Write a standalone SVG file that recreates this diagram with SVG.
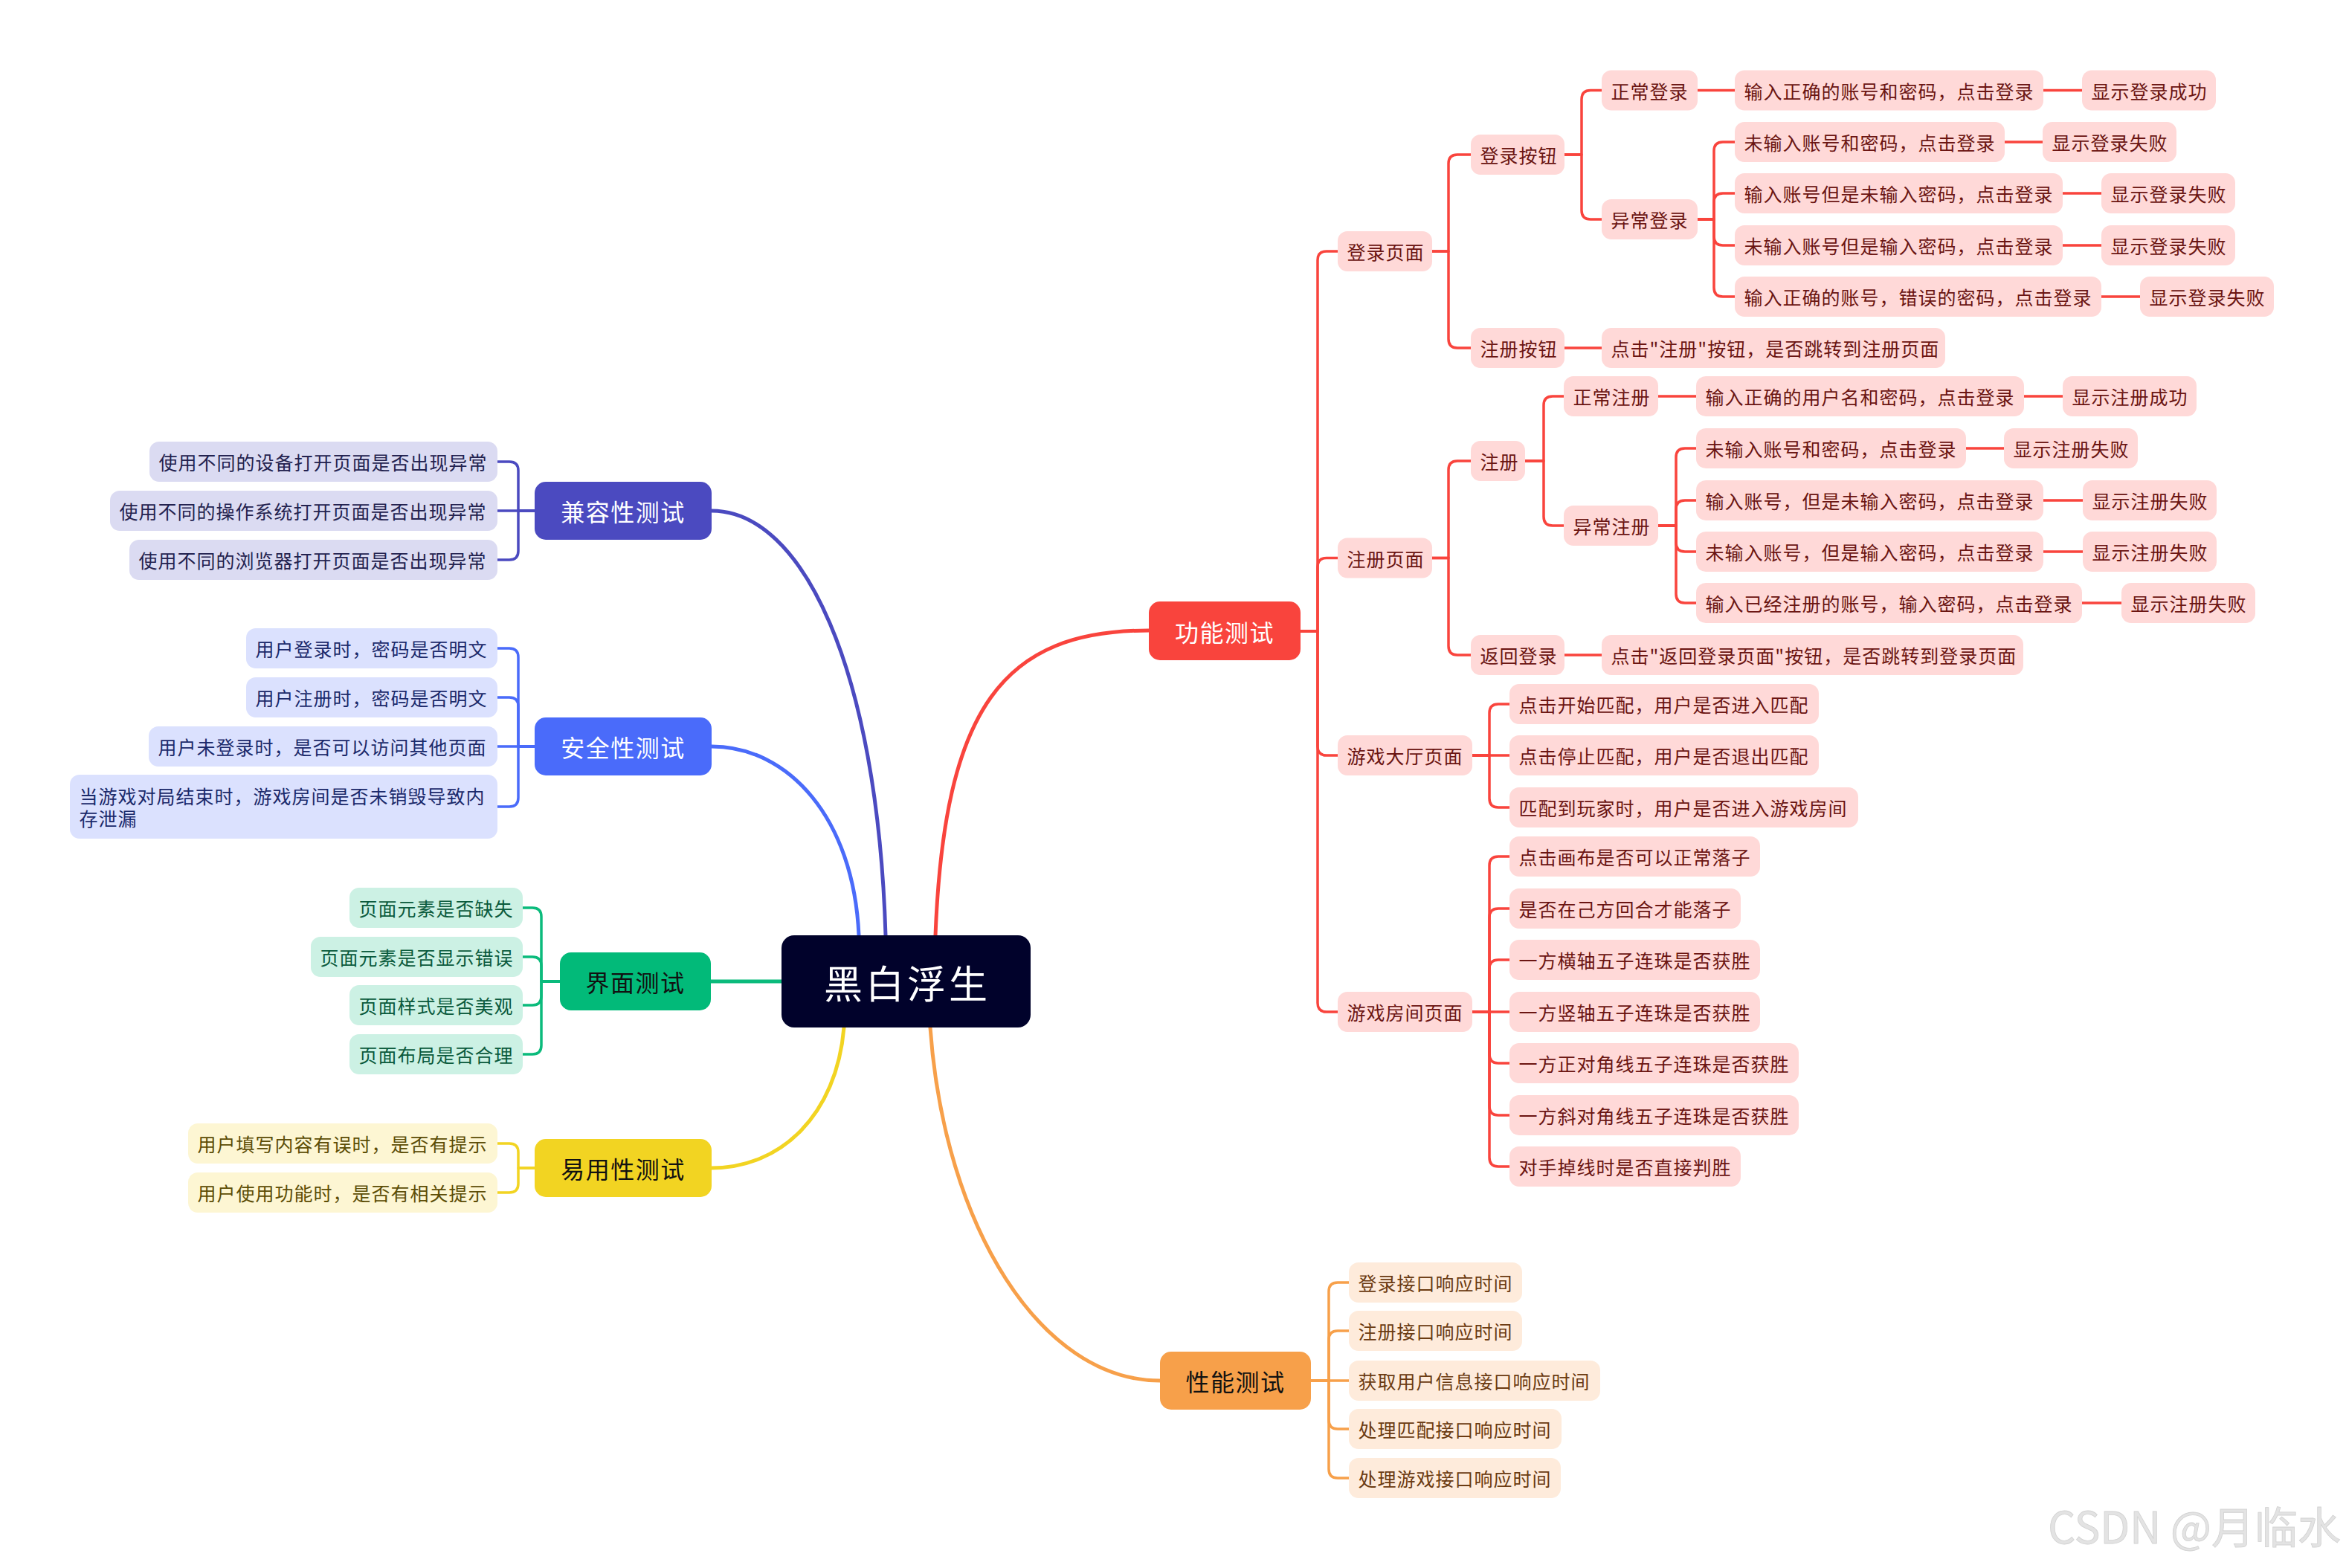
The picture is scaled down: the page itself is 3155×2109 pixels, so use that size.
<svg xmlns="http://www.w3.org/2000/svg" width="3155" height="2109" viewBox="0 0 3155 2109">
<style>
text{font-family:"Noto Sans CJK SC","Noto Sans CJK JP",sans-serif;}
.t{font-size:25px;letter-spacing:1px;dominant-baseline:central;}
.m{font-size:32px;letter-spacing:1.5px;dominant-baseline:central;text-anchor:middle;}
.cn path{fill:none;stroke-linecap:round;stroke-linejoin:round;}
.sr path{stroke:#F9443D;stroke-width:3.5;}
.si path{stroke:#4B4AC0;stroke-width:3.5;}
.sb path{stroke:#4A6BFA;stroke-width:3.5;}
.sg path{stroke:#0BBB7C;stroke-width:3.5;}
.sy path{stroke:#F2D422;stroke-width:3.5;}
.so path{stroke:#F7A04A;stroke-width:3.5;}
.main path{stroke-width:5;}
.fr rect{fill:#FFD9D8;} .fr text{fill:#6b1512;}
.fi rect{fill:#DBDBF2;} .fi text{fill:#23224f;}
.fb rect{fill:#DBE1FE;} .fb text{fill:#1b2a6b;}
.fg rect{fill:#CCF1E4;} .fg text{fill:#0a5a3c;}
.fy rect{fill:#FDF6D3;} .fy text{fill:#5c4d06;}
.fo rect{fill:#FEEBDB;} .fo text{fill:#6b3b12;}
</style>
<rect width="3155" height="2109" fill="#ffffff"/>
<g id="connectors" class="cn">
 <g class="main">
  <path d="M1258 1258 C1270 950 1350 848 1545 848" stroke="#F9443D"/>
  <path d="M1191 1258 C1180 900 1080 687 957 687" stroke="#4B4AC0"/>
  <path d="M1155 1258 C1148 1100 1060 1004 957 1004" stroke="#4A6BFA"/>
  <path d="M1051 1320 H956" stroke="#0BBB7C"/>
  <path d="M1135 1382 C1125 1500 1050 1571 957 1571" stroke="#F2D422"/>
  <path d="M1251 1382 C1270 1650 1400 1857 1560 1857" stroke="#F7A04A"/>
 </g>
 <g class="sr">
  <path d="M1749 849 H1772 V350 Q1772 338 1784 338 H1799"/>
  <path d="M1749 849 H1772 V762.5 Q1772 750.5 1784 750.5 H1799"/>
  <path d="M1749 849 H1772 V1004 Q1772 1016 1784 1016 H1799"/>
  <path d="M1749 849 H1772 V1349 Q1772 1361 1784 1361 H1799"/>
  <path d="M1926 338 H1948 V220 Q1948 208 1960 208 H1978"/>
  <path d="M1926 338 H1948 V456 Q1948 468 1960 468 H1978"/>
  <path d="M1926 750.5 H1948 V632 Q1948 620 1960 620 H1978"/>
  <path d="M1926 750.5 H1948 V869 Q1948 881 1960 881 H1978"/>
  <path d="M2104 208 H2127 V133.5 Q2127 121.5 2139 121.5 H2154"/>
  <path d="M2104 208 H2127 V283 Q2127 295 2139 295 H2154"/>
  <path d="M2104 468 H2154"/>
  <path d="M2104 881 H2154"/>
  <path d="M2283 121.5 H2333"/>
  <path d="M2748 121.5 H2800"/>
  <path d="M2283 295 H2305 V203 Q2305 191 2317 191 H2333"/>
  <path d="M2283 295 H2305 V272 Q2305 260 2317 260 H2333"/>
  <path d="M2283 295 H2305 V318 Q2305 330 2317 330 H2333"/>
  <path d="M2283 295 H2305 V387 Q2305 399 2317 399 H2333"/>
  <path d="M2696 191 H2747"/>
  <path d="M2774 260 H2826"/>
  <path d="M2774 330 H2826"/>
  <path d="M2826 399 H2878"/>
  <path d="M2051 620 H2076 V545 Q2076 533 2088 533 H2103"/>
  <path d="M2051 620 H2076 V695 Q2076 707 2088 707 H2103"/>
  <path d="M2230 533 H2281"/>
  <path d="M2722 533 H2774"/>
  <path d="M2230 707 H2254 V615 Q2254 603 2266 603 H2281"/>
  <path d="M2230 707 H2254 V685 Q2254 673 2266 673 H2281"/>
  <path d="M2230 707 H2254 V730 Q2254 742 2266 742 H2281"/>
  <path d="M2230 707 H2254 V799 Q2254 811 2266 811 H2281"/>
  <path d="M2644 603 H2695"/>
  <path d="M2748 673 H2801"/>
  <path d="M2748 742 H2801"/>
  <path d="M2800 811 H2853"/>
  <path d="M1980 1016 H2003 V959 Q2003 947 2015 947 H2030"/>
  <path d="M1980 1016 H2030"/>
  <path d="M1980 1016 H2003 V1074 Q2003 1086 2015 1086 H2030"/>
  <path d="M1980 1361 H2003 V1164 Q2003 1152 2015 1152 H2030"/>
  <path d="M1980 1361 H2003 V1234 Q2003 1222 2015 1222 H2030"/>
  <path d="M1980 1361 H2003 V1303 Q2003 1291 2015 1291 H2030"/>
  <path d="M1980 1361 H2030"/>
  <path d="M1980 1361 H2003 V1418 Q2003 1430 2015 1430 H2030"/>
  <path d="M1980 1361 H2003 V1488 Q2003 1500 2015 1500 H2030"/>
  <path d="M1980 1361 H2003 V1557 Q2003 1569 2015 1569 H2030"/>
 </g>
 <g class="so">
  <path d="M1763 1857 H1787 V1737 Q1787 1725 1799 1725 H1814"/>
  <path d="M1763 1857 H1787 V1802 Q1787 1790 1799 1790 H1814"/>
  <path d="M1763 1857 H1814"/>
  <path d="M1763 1857 H1787 V1910 Q1787 1922 1799 1922 H1814"/>
  <path d="M1763 1857 H1787 V1976 Q1787 1988 1799 1988 H1814"/>
 </g>
 <g class="si">
  <path d="M719 687 H697 V633 Q697 621 685 621 H669"/>
  <path d="M719 687 H669"/>
  <path d="M719 687 H697 V741 Q697 753 685 753 H669"/>
 </g>
 <g class="sb">
  <path d="M719 1004 H697 V884 Q697 872 685 872 H669"/>
  <path d="M719 1004 H697 V950 Q697 938 685 938 H669"/>
  <path d="M719 1004 H669"/>
  <path d="M719 1004 H697 V1073 Q697 1085 685 1085 H669"/>
 </g>
 <g class="sg">
  <path d="M753 1320 H728 V1233 Q728 1221 716 1221 H703"/>
  <path d="M753 1320 H728 V1299 Q728 1287 716 1287 H703"/>
  <path d="M753 1320 H728 V1340 Q728 1352 716 1352 H703"/>
  <path d="M753 1320 H728 V1406 Q728 1418 716 1418 H703"/>
 </g>
 <g class="sy">
  <path d="M719 1571 H697 V1550 Q697 1538 685 1538 H669"/>
  <path d="M719 1571 H697 V1592 Q697 1604 685 1604 H669"/>
 </g>
</g>

<g id="root">
 <rect x="1051" y="1258" width="335" height="124" rx="17" fill="#01022B"/>
 <text x="1220" y="1320" fill="#ffffff" font-size="52" letter-spacing="4" text-anchor="middle" dominant-baseline="central">黑白浮生</text>
</g>

<g id="func">
 <rect x="1545" y="809" width="204" height="79" rx="15" fill="#F9443D"/>
 <text class="m" x="1647" y="848.5" fill="#ffffff">功能测试</text>
</g>
<g id="compat">
 <rect x="719" y="648" width="238" height="78" rx="15" fill="#4B4AC0"/>
 <text class="m" x="838" y="687" fill="#ffffff">兼容性测试</text>
</g>
<g id="security">
 <rect x="719" y="965" width="238" height="78" rx="15" fill="#4A6BFA"/>
 <text class="m" x="838" y="1004" fill="#ffffff">安全性测试</text>
</g>
<g id="ui">
 <rect x="753" y="1281" width="203" height="78" rx="15" fill="#02BA79"/>
 <text class="m" x="854.5" y="1320" fill="#111111">界面测试</text>
</g>
<g id="usability">
 <rect x="719" y="1532" width="238" height="78" rx="15" fill="#F2D422"/>
 <text class="m" x="838" y="1571" fill="#111111">易用性测试</text>
</g>
<g id="perf">
 <rect x="1560" y="1818" width="203" height="78" rx="15" fill="#F7A04A"/>
 <text class="m" x="1661.5" y="1857" fill="#111111">性能测试</text>
</g>

<g class="fr">
 <g id="f-login"><rect x="1799" y="311" width="127" height="54" rx="13"/><text class="t" x="1811.5" y="338">登录页面</text></g>
 <g id="f-reg"><rect x="1799" y="723.5" width="127" height="54" rx="13"/><text class="t" x="1811.5" y="750.5">注册页面</text></g>
 <g id="f-lobby"><rect x="1799" y="989" width="181" height="54" rx="13"/><text class="t" x="1811.5" y="1016">游戏大厅页面</text></g>
 <g id="f-room"><rect x="1799" y="1334" width="181" height="54" rx="13"/><text class="t" x="1811.5" y="1361">游戏房间页面</text></g>

 <g id="f-loginbtn"><rect x="1978" y="181" width="126" height="54" rx="13"/><text class="t" x="1990.5" y="208">登录按钮</text></g>
 <g id="f-regbtn"><rect x="1978" y="441" width="126" height="54" rx="13"/><text class="t" x="1990.5" y="468">注册按钮</text></g>
 <g id="f-regist"><rect x="1978" y="593" width="73" height="54" rx="13"/><text class="t" x="1990.5" y="620">注册</text></g>
 <g id="f-back"><rect x="1978" y="854" width="126" height="54" rx="13"/><text class="t" x="1990.5" y="881">返回登录</text></g>

 <g id="f-normlogin"><rect x="2154" y="94.5" width="129" height="54" rx="13"/><text class="t" x="2166.5" y="121.5">正常登录</text></g>
 <g id="f-abnlogin"><rect x="2154" y="268" width="129" height="54" rx="13"/><text class="t" x="2166.5" y="295">异常登录</text></g>
 <g id="f-regjump"><rect x="2154" y="441" width="462" height="54" rx="13"/><text class="t" x="2166.5" y="468">点击"注册"按钮，是否跳转到注册页面</text></g>
 <g id="f-normreg"><rect x="2103" y="506" width="127" height="54" rx="13"/><text class="t" x="2115.5" y="533">正常注册</text></g>
 <g id="f-abnreg"><rect x="2103" y="680" width="127" height="54" rx="13"/><text class="t" x="2115.5" y="707">异常注册</text></g>
 <g id="f-backjump"><rect x="2154" y="854" width="567" height="54" rx="13"/><text class="t" x="2166.5" y="881">点击"返回登录页面"按钮，是否跳转到登录页面</text></g>

 <g id="f-l1"><rect x="2333" y="94.5" width="415" height="54" rx="13"/><text class="t" x="2345.5" y="121.5">输入正确的账号和密码，点击登录</text></g>
 <g id="f-l1r"><rect x="2800" y="94.5" width="180" height="54" rx="13"/><text class="t" x="2812.5" y="121.5">显示登录成功</text></g>
 <g id="f-l2"><rect x="2333" y="164" width="363" height="54" rx="13"/><text class="t" x="2345.5" y="191">未输入账号和密码，点击登录</text></g>
 <g id="f-l2r"><rect x="2747" y="164" width="180" height="54" rx="13"/><text class="t" x="2759.5" y="191">显示登录失败</text></g>
 <g id="f-l3"><rect x="2333" y="233" width="441" height="54" rx="13"/><text class="t" x="2345.5" y="260">输入账号但是未输入密码，点击登录</text></g>
 <g id="f-l3r"><rect x="2826" y="233" width="180" height="54" rx="13"/><text class="t" x="2838.5" y="260">显示登录失败</text></g>
 <g id="f-l4"><rect x="2333" y="303" width="441" height="54" rx="13"/><text class="t" x="2345.5" y="330">未输入账号但是输入密码，点击登录</text></g>
 <g id="f-l4r"><rect x="2826" y="303" width="180" height="54" rx="13"/><text class="t" x="2838.5" y="330">显示登录失败</text></g>
 <g id="f-l5"><rect x="2333" y="372" width="493" height="54" rx="13"/><text class="t" x="2345.5" y="399">输入正确的账号，错误的密码，点击登录</text></g>
 <g id="f-l5r"><rect x="2878" y="372" width="180" height="54" rx="13"/><text class="t" x="2890.5" y="399">显示登录失败</text></g>

 <g id="f-r1"><rect x="2281" y="506" width="441" height="54" rx="13"/><text class="t" x="2293.5" y="533">输入正确的用户名和密码，点击登录</text></g>
 <g id="f-r1r"><rect x="2774" y="506" width="180" height="54" rx="13"/><text class="t" x="2786.5" y="533">显示注册成功</text></g>
 <g id="f-r2"><rect x="2281" y="576" width="363" height="54" rx="13"/><text class="t" x="2293.5" y="603">未输入账号和密码，点击登录</text></g>
 <g id="f-r2r"><rect x="2695" y="576" width="180" height="54" rx="13"/><text class="t" x="2707.5" y="603">显示注册失败</text></g>
 <g id="f-r3"><rect x="2281" y="646" width="467" height="54" rx="13"/><text class="t" x="2293.5" y="673">输入账号，但是未输入密码，点击登录</text></g>
 <g id="f-r3r"><rect x="2801" y="646" width="180" height="54" rx="13"/><text class="t" x="2813.5" y="673">显示注册失败</text></g>
 <g id="f-r4"><rect x="2281" y="715" width="467" height="54" rx="13"/><text class="t" x="2293.5" y="742">未输入账号，但是输入密码，点击登录</text></g>
 <g id="f-r4r"><rect x="2801" y="715" width="180" height="54" rx="13"/><text class="t" x="2813.5" y="742">显示注册失败</text></g>
 <g id="f-r5"><rect x="2281" y="784" width="519" height="54" rx="13"/><text class="t" x="2293.5" y="811">输入已经注册的账号，输入密码，点击登录</text></g>
 <g id="f-r5r"><rect x="2853" y="784" width="180" height="54" rx="13"/><text class="t" x="2865.5" y="811">显示注册失败</text></g>

 <g id="f-g1"><rect x="2030" y="920" width="416" height="54" rx="13"/><text class="t" x="2042.5" y="947">点击开始匹配，用户是否进入匹配</text></g>
 <g id="f-g2"><rect x="2030" y="989" width="416" height="54" rx="13"/><text class="t" x="2042.5" y="1016">点击停止匹配，用户是否退出匹配</text></g>
 <g id="f-g3"><rect x="2030" y="1059" width="469" height="54" rx="13"/><text class="t" x="2042.5" y="1086">匹配到玩家时，用户是否进入游戏房间</text></g>

 <g id="f-h1"><rect x="2030" y="1125" width="337" height="54" rx="13"/><text class="t" x="2042.5" y="1152">点击画布是否可以正常落子</text></g>
 <g id="f-h2"><rect x="2030" y="1195" width="311" height="54" rx="13"/><text class="t" x="2042.5" y="1222">是否在己方回合才能落子</text></g>
 <g id="f-h3"><rect x="2030" y="1264" width="337" height="54" rx="13"/><text class="t" x="2042.5" y="1291">一方横轴五子连珠是否获胜</text></g>
 <g id="f-h4"><rect x="2030" y="1334" width="337" height="54" rx="13"/><text class="t" x="2042.5" y="1361">一方竖轴五子连珠是否获胜</text></g>
 <g id="f-h5"><rect x="2030" y="1403" width="389" height="54" rx="13"/><text class="t" x="2042.5" y="1430">一方正对角线五子连珠是否获胜</text></g>
 <g id="f-h6"><rect x="2030" y="1473" width="389" height="54" rx="13"/><text class="t" x="2042.5" y="1500">一方斜对角线五子连珠是否获胜</text></g>
 <g id="f-h7"><rect x="2030" y="1542" width="311" height="54" rx="13"/><text class="t" x="2042.5" y="1569">对手掉线时是否直接判胜</text></g>
</g>

<g class="fo">
 <g id="p1"><rect x="1814" y="1698" width="233" height="54" rx="13"/><text class="t" x="1826.5" y="1725">登录接口响应时间</text></g>
 <g id="p2"><rect x="1814" y="1763" width="233" height="54" rx="13"/><text class="t" x="1826.5" y="1790">注册接口响应时间</text></g>
 <g id="p3"><rect x="1814" y="1830" width="338" height="54" rx="13"/><text class="t" x="1826.5" y="1857">获取用户信息接口响应时间</text></g>
 <g id="p4"><rect x="1814" y="1895" width="286" height="54" rx="13"/><text class="t" x="1826.5" y="1922">处理匹配接口响应时间</text></g>
 <g id="p5"><rect x="1814" y="1961" width="285" height="54" rx="13"/><text class="t" x="1826.5" y="1988">处理游戏接口响应时间</text></g>
</g>

<g class="fi">
 <g id="c1"><rect x="201" y="594" width="468" height="54" rx="13"/><text class="t" x="213.5" y="621">使用不同的设备打开页面是否出现异常</text></g>
 <g id="c2"><rect x="148" y="660" width="521" height="54" rx="13"/><text class="t" x="160.5" y="687">使用不同的操作系统打开页面是否出现异常</text></g>
 <g id="c3"><rect x="174" y="726" width="495" height="54" rx="13"/><text class="t" x="186.5" y="753">使用不同的浏览器打开页面是否出现异常</text></g>
</g>

<g class="fb">
 <g id="s1"><rect x="331" y="845" width="338" height="54" rx="13"/><text class="t" x="343.5" y="872">用户登录时，密码是否明文</text></g>
 <g id="s2"><rect x="331" y="911" width="338" height="54" rx="13"/><text class="t" x="343.5" y="938">用户注册时，密码是否明文</text></g>
 <g id="s3"><rect x="200" y="977" width="469" height="54" rx="13"/><text class="t" x="212.5" y="1004">用户未登录时，是否可以访问其他页面</text></g>
 <g id="s4"><rect x="94" y="1042" width="575" height="86" rx="13"/><text class="t" x="106.5" y="1070">当游戏对局结束时，游戏房间是否未销毁导致内<tspan x="106.5" y="1100">存泄漏</tspan></text></g>
</g>

<g class="fg">
 <g id="u1"><rect x="470" y="1194" width="233" height="54" rx="13"/><text class="t" x="482.5" y="1221">页面元素是否缺失</text></g>
 <g id="u2"><rect x="418" y="1260" width="285" height="54" rx="13"/><text class="t" x="430.5" y="1287">页面元素是否显示错误</text></g>
 <g id="u3"><rect x="470" y="1325" width="233" height="54" rx="13"/><text class="t" x="482.5" y="1352">页面样式是否美观</text></g>
 <g id="u4"><rect x="470" y="1391" width="233" height="54" rx="13"/><text class="t" x="482.5" y="1418">页面布局是否合理</text></g>
</g>

<g class="fy">
 <g id="y1"><rect x="253" y="1511" width="416" height="54" rx="13"/><text class="t" x="265.5" y="1538">用户填写内容有误时，是否有提示</text></g>
 <g id="y2"><rect x="253" y="1577" width="416" height="54" rx="13"/><text class="t" x="265.5" y="1604">用户使用功能时，是否有相关提示</text></g>
</g>

<text x="3148" y="2076" font-family="'Liberation Sans','Noto Sans CJK SC',sans-serif" font-size="58" text-anchor="end" fill="#e3e3e3" stroke="#d2d2d2" stroke-width="0.8">CSDN @月临水</text>
</svg>
